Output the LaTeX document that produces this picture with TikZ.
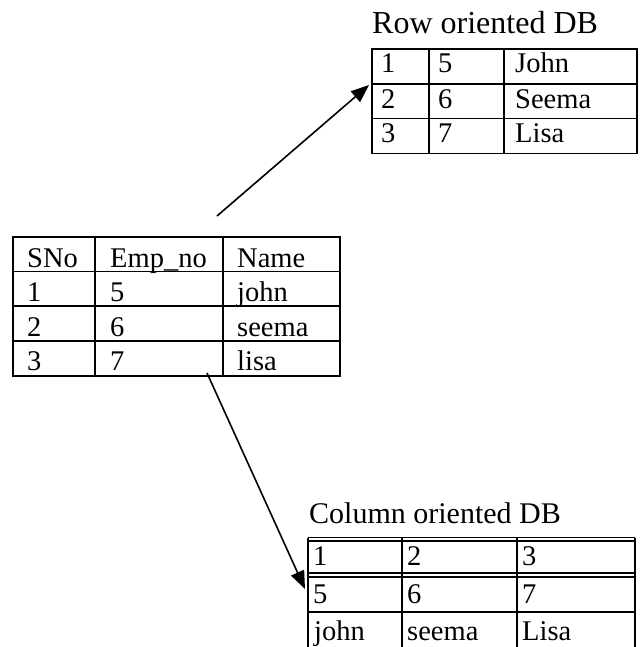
\documentclass[tikz,border=0pt]{standalone}
\usepackage{fontspec}
\setmainfont{Liberation Serif}
\usetikzlibrary{arrows.meta}
\begin{document}
\begin{tikzpicture}[x=1pt,y=-1pt,
  cell/.style={anchor=base west, inner sep=0pt, font=\fontsize{28.5}{30}\selectfont},
  ttl/.style={anchor=base west, inner sep=0pt, font=\fontsize{30}{32}\selectfont},
  bigttl/.style={anchor=base west, inner sep=0pt, font=\fontsize{32}{35}\selectfont},
  grid/.style={line width=1.6pt},
  thin/.style={line width=1.1pt},
  thick2/.style={line width=2.8pt},
  arr/.style={line width=1.6pt, -{Triangle[length=18pt,width=14pt]}}]
\useasboundingbox (0,0) rectangle (639,647);

% ---------- Row oriented table ----------
\node[bigttl] (rowtitle) at (372,34) {Row oriented DB};
\draw[grid] (372,49) rectangle (637,153.5);
\draw[grid] (372,84)--(637,84) (372,118.5)--(637,118.5)
            (429,49)--(429,153.5) (504,49)--(504,153.5);
\node[cell] (r11) at (381,73) {1};
\node[cell] (r12) at (438,73) {5};
\node[cell] (r13) at (515,73) {John};
\node[cell] (r21) at (381,108.5) {2};
\node[cell] (r22) at (438,108.5) {6};
\node[cell] (r23) at (515,108.5) {Seema};
\node[cell] (r31) at (381,143) {3};
\node[cell] (r32) at (438,143) {7};
\node[cell] (r33) at (515,143) {Lisa};

% ---------- Main table ----------
\draw[grid] (13,237) rectangle (340,376);
\draw[grid] (13,271.5)--(340,271.5) (13,306)--(340,306) (13,341)--(340,341)
            (95,237)--(95,376) (223,237)--(223,376);
\node[cell] (m01) at (27,267) {SNo};
\node[cell] (m02) at (110,267) {Emp\_no};
\node[cell] (m03) at (237,267) {Name};
\node[cell] (m11) at (27,301) {1};
\node[cell] (m12) at (110,301) {5};
\node[cell] (m13) at (237,301) {john};
\node[cell] (m21) at (27,336) {2};
\node[cell] (m22) at (110,336) {6};
\node[cell] (m23) at (237,336) {seema};
\node[cell] (m31) at (27,370) {3};
\node[cell] (m32) at (110,370) {7};
\node[cell] (m33) at (237,370) {lisa};

% ---------- Column oriented table ----------
\node[ttl] (coltitle) at (309,523) {Column oriented DB};
\draw[thin] (308,537.5)--(635,537.5) (308,541)--(635,541);
\draw[thin] (308,573)--(635,573) (308,577)--(635,577);
\draw[thick2] (308,612)--(635,612);
\draw[grid] (308,537.5)--(308,647) (402,537.5)--(402,647)
            (517,537.5)--(517,647) (635,537.5)--(635,647);
\node[cell] (c11) at (313,565) {1};
\node[cell] (c12) at (407,565) {2};
\node[cell] (c13) at (522,565) {3};
\node[cell] (c21) at (313,603) {5};
\node[cell] (c22) at (407,603) {6};
\node[cell] (c23) at (522,603) {7};
\node[cell] (c31) at (314,640) {john};
\node[cell] (c32) at (407,640) {seema};
\node[cell] (c33) at (522,640) {Lisa};

% ---------- Arrows ----------
\coordinate (a1s) at (217,216);
\coordinate (a1e) at (369,85);
\draw[arr] (a1s) -- (a1e);
\coordinate (a2s) at (207,373);
\coordinate (a2e) at (305,589);
\draw[arr] (a2s) -- (a2e);
\end{tikzpicture}
\end{document}
